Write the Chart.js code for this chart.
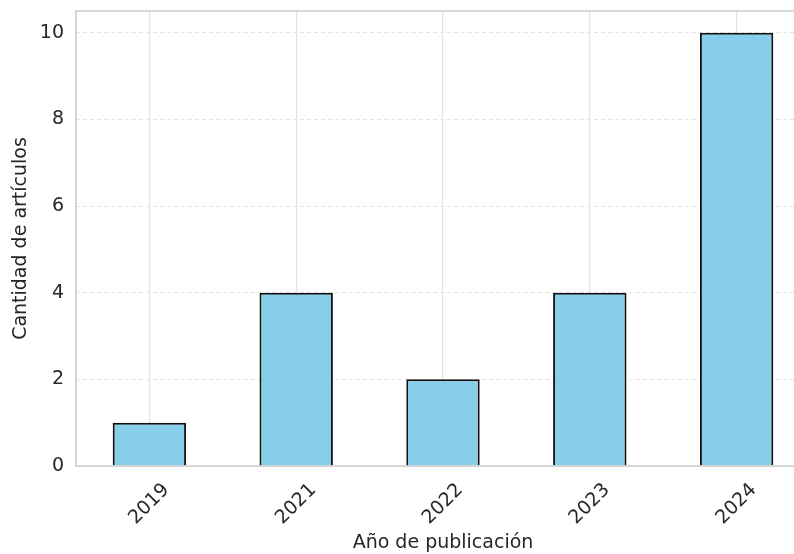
<!DOCTYPE html>
<html>
<head>
<meta charset="utf-8">
<script src="https://cdn.jsdelivr.net/npm/chart.js@4/dist/chart.umd.min.js"></script>
<style>
    html, body { margin: 0; padding: 0; overflow: hidden; background: #fff; }
    #wrap { width: 812px; height: 554px; }
</style>
</head>
<body>
<div id="wrap"><canvas id="pubChart"></canvas></div>
<script>
const years = ["2019", "2021", "2022", "2023", "2024"];
const counts = [1, 4, 2, 4, 10];
const yTicks = [0, 2, 4, 6, 8, 10];

const textColor = "#262626";
const gridColor = "#e3e3e3";
const frameColor = "#cccccc";
const fontFace = { family: "DejaVu Sans", size: 19 };

// marco del área de trazado (estilo whitegrid)
const framePlugin = {
    id: "frame",
    afterDraw(chart) {
        const a = chart.chartArea;
        const c = chart.ctx;
        c.save();
        c.strokeStyle = frameColor;
        c.lineWidth = 1.5;
        c.strokeRect(a.left, a.top, a.right - a.left, a.bottom - a.top);
        c.restore();
    }
};

const ctx = document.getElementById("pubChart").getContext("2d");

new Chart(ctx, {
    type: "bar",
    data: {
        labels: years,
        datasets: [{
            data: counts,
            backgroundColor: "#87CEEB",
            borderColor: "#111111",
            borderWidth: 2,
            barPercentage: 0.5,
            categoryPercentage: 1.0
        }]
    },
    options: {
        responsive: true,
        maintainAspectRatio: false,
        animation: false,
        layout: { padding: { top: 11, right: 2, left: 0, bottom: 0 } },
        plugins: {
            legend: { display: false },
            tooltip: { enabled: false }
        },
        scales: {
            x: {
                offset: true,
                afterFit: (scale) => { scale.height = 88; },
                grid: {
                    offset: false,
                    color: gridColor,
                    lineWidth: 1.2,
                    drawTicks: false
                },
                border: { display: false },
                ticks: {
                    color: textColor,
                    font: fontFace,
                    maxRotation: 45,
                    minRotation: 45,
                    padding: 13,
                    labelOffset: 17
                },
                title: {
                    display: true,
                    text: "Año de publicación",
                    color: textColor,
                    font: { family: "DejaVu Sans", size: 19, lineHeight: 1.1 },
                    padding: { top: 0, bottom: 0 }
                }
            },
            y: {
                min: 0,
                max: 10.5,
                afterFit: (scale) => {
                    scale.width = 76;
                    scale.paddingTop = 0;
                    scale.paddingBottom = 0;
                },
                afterBuildTicks: (scale) => {
                    scale.ticks = yTicks.map(v => ({ value: v }));
                },
                grid: {
                    color: gridColor,
                    lineWidth: 1,
                    drawTicks: false
                },
                border: { display: false, dash: [4, 3] },
                ticks: {
                    color: textColor,
                    font: fontFace,
                    padding: 12
                },
                title: {
                    display: true,
                    text: "Cantidad de artículos",
                    color: textColor,
                    font: fontFace,
                    padding: { top: 10, bottom: 4 }
                }
            }
        }
    },
    plugins: [framePlugin]
});
</script>
</body>
</html>
